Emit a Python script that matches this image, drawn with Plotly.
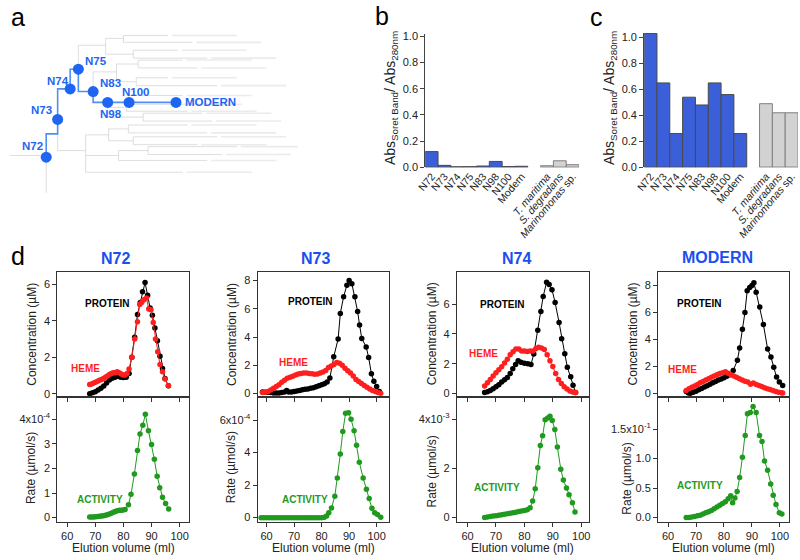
import plotly.graph_objects as go

W, H = 800, 560
FONT = "Liberation Sans, Arial, Helvetica, sans-serif"
BLUE_TXT = "#1a4ff0"
BLUE_NODE = "#1e66f2"
BLUE_LINE = "#4f8ff5"

# ---------------- Panel a : tree ----------------
tree_nodes = ["N72", "N73", "N74", "N75", "N83", "N98", "N100", "MODERN"]
tree_node_x = [36.7, 48.3, 61.0, 69.3, 84.3, 99.0, 120.7, 168.3]
tree_node_y = [156.7, 118.3, 87.3, 67.3, 90.0, 101.0, 101.0, 101.0]
tree_label_x = [22.7, 31.7, 48.3, 86.7, 101.7, 102.7, 127.7, 175.0]
tree_label_y = [145.7, 109.0, 79.0, 59.0, 81.7, 113.3, 90.0, 101.0]
tree_path_x = [36.7, 36.7, 48.3, 48.3, 61.0, 61.0, 69.3, 69.3, 84.3, 84.3, 99.0, 120.7, 168.3]
tree_path_y = [156.7, 133.0, 133.0, 87.3, 87.3, 67.3, 67.3, 90.0, 90.0, 101.0, 101.0, 101.0, 101.0]
# faint background tree: verticals (x, y0, y1), internal horizontals and leaves (x0, x1, y)
tree_v = [(36.7, 156.7, 193), (48.3, 118.3, 150), (76.7, 134, 172), (100, 128, 140),
          (120, 124, 132), (125, 136, 144), (110, 150, 160), (140, 146, 154),
          (69.3, 43, 67.3), (97, 36, 52), (115, 33, 40), (125, 48, 56),
          (84.3, 70, 90), (108, 62, 80), (130, 58, 66), (128, 76, 84),
          (99, 101, 116), (118, 103, 110), (135, 112, 120), (120.7, 94, 101)]
tree_h = [(0, 36.7, 155), (48.3, 76.7, 150), (76.7, 100, 134), (100, 120, 128),
          (100, 125, 140), (76.7, 110, 155), (110, 140, 150), (69.3, 97, 43),
          (97, 115, 36), (97, 125, 52), (84.3, 108, 70), (108, 130, 62),
          (108, 128, 80), (99, 118, 106), (99, 135, 116)]
tree_leaves = [(120, 180, 124), (120, 200, 132), (125, 210, 136), (125, 190, 144),
               (140, 230, 146), (140, 215, 154), (110, 200, 160), (76.7, 175, 172),
               (115, 160, 33), (115, 185, 40), (125, 170, 48), (125, 200, 56),
               (130, 175, 58), (130, 190, 66), (128, 160, 76), (128, 210, 84),
               (118, 165, 103), (118, 180, 110), (135, 195, 112), (135, 205, 120),
               (120.7, 175, 94)]

# ---------------- Panels b, c : bar charts ----------------
variants = ["N72", "N73", "N74", "N75", "N83", "N98", "N100", "Modern"]
species = ["T. maritima", "S. degradans", "Marinomonas sp."]
species_ticks = ["<i>T. maritima</i>", "<i>S. degradans</i>", "<i>Marinomonas</i> sp."]
spacer = " "
ratio_b_variants = [0.12, 0.015, 0.004, 0.005, 0.01, 0.045, 0.006, 0.008]
ratio_b_species = [0.012, 0.05, 0.02]
ratio_c_variants = [1.03, 0.65, 0.26, 0.54, 0.48, 0.65, 0.56, 0.26]
ratio_c_species = [0.49, 0.42, 0.42]
ratio_ticks = [0, 0.2, 0.4, 0.6, 0.8, 1.0]

# ---------------- Panel d : elution profiles ----------------
col_titles = ["N72", "N73", "N74", "MODERN"]

prot72_x = [68, 69, 70, 71, 72, 73, 74, 75, 76, 77, 78, 79, 80, 81, 82, 83, 84, 85, 86,
            86.8, 87.7, 88.6, 89.5, 90.3, 91.2, 92.1, 93, 93.9, 94.8, 96]
prot72_y = [0.0, 0.05, 0.1, 0.2, 0.3, 0.42, 0.58, 0.75, 0.85, 0.9, 0.95, 0.9, 0.88, 0.9, 1.1, 2.0, 3.1, 4.35, 5.0,
            5.6, 6.1, 5.4, 4.7, 4.3, 3.6, 2.9, 2.05, 1.38, 0.83, 0.43]
heme72_x = [68, 68.7, 69.4, 70.1, 70.8, 71.5, 72.2, 72.9, 73.6, 74.3,
            75, 75.7, 76.4, 77.1, 77.8, 78.5, 79.2, 79.9, 80.6, 81.3,
            82, 83, 84, 85, 85.8, 86.5, 87.3, 88.2, 89, 89.8,
            90.6, 91.4, 92.2, 93, 93.9, 94.8, 96]
heme72_y = [0.5, 0.53, 0.58, 0.63, 0.68, 0.73, 0.78, 0.83, 0.9, 0.97,
            1.05, 1.1, 1.15, 1.15, 1.2, 1.15, 1.08, 1.03, 1.02, 1.1,
            1.35, 2.0, 3.0, 3.95, 4.9, 5.0, 5.15, 5.25, 4.65, 4.6,
            3.9, 3.0, 2.3, 1.6, 1.2, 0.8, 0.43]
act72_x = [68, 68.7, 69.4, 70.1, 70.8, 71.5, 72.2, 72.9, 73.6, 74.3,
           75, 75.7, 76.4, 77.1, 77.8, 78.5, 79.2, 79.9, 80.6,
           81.8, 82.7, 83.9, 85, 85.9, 86.9, 87.8, 88.9,
           90, 91, 92, 92.9, 93.9, 95, 96.1]
act72_y = [0.02e-4, 0.02e-4, 0.02e-4, 0.03e-4, 0.04e-4, 0.05e-4, 0.06e-4, 0.08e-4, 0.1e-4, 0.12e-4,
           0.15e-4, 0.18e-4, 0.22e-4, 0.25e-4, 0.28e-4, 0.3e-4, 0.3e-4, 0.31e-4, 0.33e-4,
           0.52e-4, 0.95e-4, 1.77e-4, 2.73e-4, 3.4e-4, 3.75e-4, 4.2e-4, 3.53e-4,
           2.97e-4, 2.37e-4, 1.68e-4, 1.21e-4, 0.83e-4, 0.57e-4, 0.35e-4]

prot73_x = [58.5, 59.5, 60.5, 61.5, 62.5, 63.5, 64.5, 65.5, 66.5, 67.3, 68,
            69, 70, 71, 72, 73, 74, 75, 76, 77, 78, 79, 80, 81, 82, 83,
            84.4, 86, 86.8, 88, 89.2, 90, 91, 92.1, 93.1, 93.8, 94.6, 96.2, 97.1, 98.1, 99, 100, 101]
prot73_y = [0.12, 0.1, 0.1, 0.08, 0.05, 0.05, 0.05, 0.08, 0.12, 0.22, 0.12,
            0.12, 0.15, 0.18, 0.22, 0.27, 0.3, 0.33, 0.38, 0.42, 0.48, 0.55, 0.62, 0.7, 0.82, 1.1,
            2.6, 3.86, 5.67, 6.86, 7.67, 8.0, 7.78, 6.86, 5.8, 4.85, 3.9, 3.3, 2.56, 1.41, 0.88, 0.5, 0.14]
heme73_x = [58.5, 59.5, 60.5, 61.5, 62.5, 63.5, 64.5, 65.5, 66.5, 67.5,
            68.5, 69.5, 70.5, 71.5, 72.5, 73.5, 74.5, 75.5, 76.5, 77.5,
            78.5, 79.5, 80.5, 81.5, 82.5, 83.5, 84.5, 85.5, 86.5, 87.5,
            88.5, 89.5, 90.5, 91.5, 92.5, 93.5, 94.5, 95.5, 96.5, 97.5,
            98.5, 99.5, 100.5, 101.5]
heme73_y = [0.07, 0.1, 0.14, 0.25, 0.37, 0.5, 0.62, 0.8, 0.95, 1.08,
            1.15, 1.22, 1.32, 1.38, 1.42, 1.45, 1.45, 1.43, 1.4, 1.37,
            1.38, 1.45, 1.52, 1.64, 1.85, 1.95, 2.05, 2.2, 2.15, 2.0,
            1.8, 1.62, 1.45, 1.25, 1.0, 0.85, 0.72, 0.58, 0.45, 0.32,
            0.22, 0.14, 0.07, 0.03]
act73_x = [58, 59, 60, 61, 62, 63, 64, 65, 66, 67, 68, 69, 70, 71, 72, 73, 74, 75, 76, 77, 78, 79, 80, 81,
           81.8, 82.6, 83.6, 84.8, 85.7, 86.8, 87.7, 88.7, 89.8, 90.7, 91.8, 92.7, 93.7, 95.1, 96.3, 97.3,
           98.3, 99.3, 100.3, 101.5]
act73_y = [0, 0, 0, 0, 0, 0, 0, 0, 0, 0, 0, 0, 0, 0, 0, 0, 0, 0, 0, 0, 0, 0, 0, 0.02e-4,
           0.1e-4, 0.3e-4, 0.6e-4, 1.32e-4, 2.44e-4, 3.92e-4, 5.3e-4, 6.42e-4, 6.46e-4, 6.06e-4,
           5.35e-4, 4.45e-4, 3.41e-4, 2.44e-4, 1.75e-4, 1.18e-4, 0.57e-4, 0.3e-4, 0.2e-4, 0.02e-4]

prot74_x = [66, 67, 68, 69, 70, 71, 72, 73, 74, 75, 75.9, 76.9, 77.8, 78.8, 80, 81.2, 82.3, 83.3,
            84.7, 85.8, 86.6, 87.8, 88.7, 89.7, 90.8, 92.2, 93.1, 94.2, 95.1, 96.3, 97.1, 98]
prot74_y = [0.07, 0.12, 0.2, 0.32, 0.45, 0.6, 0.78, 0.92, 1.08, 1.35, 1.66, 1.95, 2.2, 2.1, 2.04, 2.0, 1.95, 2.65,
            4.25, 5.5, 6.5, 7.45, 7.3, 6.96, 6.1, 4.76, 3.68, 2.67, 1.77, 1.12, 0.55, 0.07]
heme74_x = [66, 67, 68, 69, 70, 71, 72, 73, 74, 75, 76, 77, 78, 79, 80, 81, 82, 83, 84, 85,
            86, 87, 88, 89, 90, 91, 92, 93, 94, 95, 96, 97, 98]
heme74_y = [0.5, 0.72, 0.95, 1.18, 1.4, 1.6, 1.8, 2.05, 2.3, 2.6,
            2.8, 2.98, 2.98, 2.85, 2.85, 2.82, 2.85, 2.85, 3.0, 3.1,
            3.05, 2.95, 2.6, 2.2, 1.82, 1.35, 0.94, 0.68, 0.46, 0.3,
            0.18, 0.1, 0.07]
act74_x = [66, 67, 68, 69, 70, 71, 72, 73, 74, 75, 76, 77, 78, 79, 80, 81, 82,
           82.9, 83.8, 84.7, 85.6, 86.4, 87.3, 88.2, 89, 89.8, 90.7, 91.6, 92.8, 93.7, 94.8, 95.7, 96.9, 97.8]
act74_y = [0.0, 0.02e-3, 0.04e-3, 0.06e-3, 0.08e-3, 0.1e-3, 0.12e-3, 0.14e-3, 0.16e-3, 0.18e-3,
           0.2e-3, 0.22e-3, 0.25e-3, 0.27e-3, 0.29e-3, 0.32e-3, 0.4e-3,
           0.67e-3, 1.17e-3, 2.03e-3, 2.93e-3, 3.33e-3, 3.98e-3, 4.05e-3, 4.12e-3, 3.95e-3, 3.58e-3,
           2.87e-3, 1.97e-3, 1.53e-3, 1.2e-3, 0.93e-3, 0.6e-3, 0.23e-3]

protM_x = [66.5, 67.3, 68, 69, 70, 71, 72, 73, 74, 75, 76, 77, 78, 79, 80, 81, 82,
           83.3, 84.8, 85.6, 86.6, 87.5, 88.3, 89.2, 90, 90.7, 91.5, 92.8, 94.1, 95.6, 96.8, 97.8, 98.8, 99.8, 101]
protM_y = [0.15, 0.05, 0.02, 0.1, 0.18, 0.28, 0.38, 0.48, 0.58, 0.7, 0.8, 0.9, 1.0, 1.08, 1.18, 1.28, 1.4,
           1.7, 2.46, 3.37, 4.76, 6.0, 7.6, 7.85, 8.0, 8.2, 7.5, 6.4, 5.1, 3.3, 2.7, 1.95, 1.22, 0.86, 0.6]
hemeM_x = [66.5, 67.5, 68.5, 69.5, 70.5, 71.5, 72.5, 73.5, 74.5, 75.5,
           76.5, 77.5, 78.5, 79.5, 80.5, 81.5, 82.5, 83.5, 84.5, 85.5,
           86.5, 87.5, 88.5, 89.5, 90.5, 91.5, 92.5, 93.5, 94.5, 95.5,
           96.5, 97.5, 98.5, 99.5, 100.5, 101]
hemeM_y = [0.22, 0.35, 0.46, 0.57, 0.68, 0.8, 0.9, 1.0, 1.1, 1.2,
           1.3, 1.4, 1.48, 1.55, 1.62, 1.5, 1.4, 1.3, 1.2, 1.1,
           1.0, 0.92, 0.86, 0.7, 0.78, 0.68, 0.6, 0.52, 0.43, 0.36,
           0.3, 0.22, 0.16, 0.1, 0.06, 0.04]
actM_x = [66.5, 67.5, 68.5, 69.5, 70.5, 71.5, 72.5, 73.5, 74.5, 75.5, 76.5, 77.5, 78.5, 79.5, 80.5, 81.5,
          82.4, 83.1, 83.9, 84.7, 85.6, 86.6, 87.6, 88.4, 89.4, 90.4, 91.5, 92.7, 93.6, 94.5, 95.6, 96.7,
          97.6, 98.6, 99.8, 100.7]
actM_y = [0.0, 0.0, 0.001, 0.002, 0.003, 0.004, 0.006, 0.008, 0.01, 0.012, 0.015, 0.018, 0.021, 0.024, 0.027, 0.032,
          0.037, 0.025, 0.033, 0.044, 0.068, 0.102, 0.139, 0.176, 0.178, 0.188, 0.178, 0.139, 0.129, 0.096, 0.08, 0.057,
          0.038, 0.022, 0.008, 0.006]

conc_tickvals = [[0, 2, 4, 6], [0, 2, 4, 6, 8], [0, 2, 4, 6], [0, 2, 4, 6, 8]]
rate_tickvals = [[0, 1e-4, 2e-4, 3e-4, 4e-4], [0, 2e-4, 4e-4, 6e-4], [0, 2e-3, 4e-3], [0, 0.05, 0.10, 0.15]]
rate_ticktext = [["0", "1", "2", "3", "4x10<sup>-4</sup>"], ["0", "2", "4", "6x10<sup>-4</sup>"],
                 ["0", "2", "4x10<sup>-3</sup>"], ["0.0", "0.5", "1.0", "1.5x10<sup>-1</sup>"]]
elution_ticks = [60, 70, 80, 90, 100]

# ---------------- layout geometry (pixels) ----------------
col_px = [(48, 182), (251, 384), (453, 587), (657, 790)]
col_xrange = [[56.5, 103.5], [56.7, 104.4], [56.2, 102.7], [56.4, 103.3]]
col_concrange = [[-0.16, 6.7], [-0.21, 8.63], [-0.2, 8.17], [-0.22, 9.02]]
col_raterange = [[-0.16e-4, 4.92e-4], [-0.24e-4, 7.45e-4], [-0.16e-3, 4.92e-3], [-0.0067, 0.205]]
TOP, MID, BOT = 273, 400, 527


def dx(l, r):
    return [l / W, r / W]


def dy(top, bottom):
    return [1 - bottom / H, 1 - top / H]


def note(x, y, text, size, color, angle=0, xanchor="center"):
    return dict(x=x / W, y=1 - y / H, xref="paper", yref="paper", text=text, showarrow=False,
                xanchor=xanchor, yanchor="middle", textangle=angle,
                font=dict(family=FONT, size=size, color=color))


fig = go.Figure()
layout = {}

# ----- panel a -----
gx, gy = [], []
for x, y0, y1 in tree_v:
    gx += [x, x, None]
    gy += [y0, y1, None]
for x0, x1, y in tree_h + tree_leaves:
    gx += [x0, x1, None]
    gy += [y, y, None]
sx, sy = [], []
for x0, x1, y in tree_leaves:
    sx += [x1 + 4, min(x1 + 70, 292), None]
    sy += [y, y, None]
fig.add_trace(go.Scatter(x=sx, y=sy, mode="lines", line=dict(color="#ebebeb", width=1.6),
                         xaxis="x", yaxis="y"))
fig.add_trace(go.Scatter(x=gx, y=gy, mode="lines", line=dict(color="#d6d6d6", width=0.8),
                         xaxis="x", yaxis="y"))
fig.add_trace(go.Scatter(x=tree_path_x, y=tree_path_y, mode="lines", line=dict(color=BLUE_LINE, width=1.6),
                         xaxis="x", yaxis="y"))
fig.add_trace(go.Scatter(x=tree_node_x, y=tree_node_y, mode="markers",
                         marker=dict(color=BLUE_NODE, size=11), xaxis="x", yaxis="y"))
layout["xaxis"] = dict(domain=dx(0, 300), range=[0, 300], visible=False)
layout["yaxis"] = dict(domain=dy(25, 200), range=[200, 25], visible=False)

annotations = []
for name, lx, ly in zip(tree_nodes, tree_label_x, tree_label_y):
    annotations.append(dict(x=lx, y=ly, xref="x", yref="y", text=f"<b>{name}</b>", showarrow=False,
                            xanchor="left" if name == "MODERN" else "center", yanchor="middle",
                            font=dict(family=FONT, size=11.5, color=BLUE_NODE)))

# ----- panels b, c -----
cat_order = variants + [spacer] + species
cat_text = variants + [" "] + species_ticks
shapes = []
for k, (vals_v, vals_s, xd, yd, yr) in enumerate([
        (ratio_b_variants, ratio_b_species, (421, 577), (31, 167), [0, 1.0226]),
        (ratio_c_variants, ratio_c_species, (643, 799), (30, 167), [0, 1.038])]):
    n = 2 + k
    fig.add_trace(go.Bar(x=variants, y=vals_v, width=1, marker=dict(color="#3b5fd8", line=dict(color="#4a4a4a", width=1)),
                         xaxis=f"x{n}", yaxis=f"y{n}"))
    fig.add_trace(go.Bar(x=species, y=vals_s, width=1, marker=dict(color="#d2d2d2", line=dict(color="#808080", width=1)),
                         xaxis=f"x{n}", yaxis=f"y{n}"))
    layout[f"xaxis{n}"] = dict(domain=dx(*xd), anchor=f"y{n}", type="category", categoryorder="array",
                               categoryarray=cat_order, tickvals=cat_order, ticktext=cat_text,
                               range=[-0.5, 11.5], tickangle=-50, showline=False, ticks="",
                               tickfont=dict(family=FONT, size=10.5, color="#222"), showgrid=False, zeroline=False)
    layout[f"yaxis{n}"] = dict(domain=dy(*yd), anchor=f"x{n}", range=yr, tickvals=ratio_ticks, tickformat=".1f",
                               showline=True, linecolor="#444", linewidth=1, ticks="outside", ticklen=4,
                               tickcolor="#444", tickfont=dict(family=FONT, size=11, color="#222"),
                               showgrid=False, zeroline=False)
    shapes.append(dict(type="line", xref=f"x{n}", yref=f"y{n}", x0=-0.5, x1=7.5, y0=0, y1=0,
                       line=dict(color="#555", width=1.2)))
    shapes.append(dict(type="line", xref=f"x{n}", yref=f"y{n}", x0=8.5, x1=11.5, y0=0, y1=0,
                       line=dict(color="#777", width=1.2)))

for tx in (387, 609):
    annotations.append(note(tx, 97, "Abs<sub>Soret Band</sub>/ Abs<sub>280nm</sub>", 14, "#222", angle=-90))

# ----- panel d -----
series = [
    (prot72_x, prot72_y, heme72_x, heme72_y, act72_x, act72_y),
    (prot73_x, prot73_y, heme73_x, heme73_y, act73_x, act73_y),
    (prot74_x, prot74_y, heme74_x, heme74_y, act74_x, act74_y),
    (protM_x, protM_y, hemeM_x, hemeM_y, actM_x, actM_y),
]
label_pos = [
    dict(p=(98, 305), h=(77, 371), a=(91, 505)),
    dict(p=(304, 303), h=(287, 365), a=(299, 505)),
    dict(p=(499, 306), h=(480, 356), a=(494, 492)),
    dict(p=(699, 305), h=(682, 372), a=(700, 490)),
]
title_pos = [(107, 260), (310, 260), (514, 260), (717, 259)]
ytitle_x = [(22, 22), (225, 225), (428, 428), (632, 626)]
rate_title_y = [473, 472, 476, 483]

axis_common = dict(showline=True, linecolor="#333", linewidth=1, mirror=True, showgrid=False, zeroline=False,
                   ticks="outside", ticklen=4, tickcolor="#333",
                   tickfont=dict(family=FONT, size=11, color="#222"))
MS = 5.5
for i, (px_, py_, hx, hy, ax_, ay_) in enumerate(series):
    nt, nb = 4 + 2 * i, 5 + 2 * i
    l, r = col_px[i]
    fig.add_trace(go.Scatter(x=px_, y=py_, mode="lines+markers", line=dict(color="#000", width=1),
                             marker=dict(color="#000", size=MS), xaxis=f"x{nt}", yaxis=f"y{nt}"))
    fig.add_trace(go.Scatter(x=hx, y=hy, mode="lines+markers", line=dict(color="#ff1f1f", width=1),
                             marker=dict(color="#ff1f1f", size=MS), xaxis=f"x{nt}", yaxis=f"y{nt}"))
    fig.add_trace(go.Scatter(x=ax_, y=ay_, mode="lines+markers", line=dict(color="#1f9a1f", width=1),
                             marker=dict(color="#1f9a1f", size=MS), xaxis=f"x{nb}", yaxis=f"y{nb}"))
    layout[f"xaxis{nt}"] = dict(axis_common, domain=dx(l, r), anchor=f"y{nt}", range=col_xrange[i],
                                tickvals=elution_ticks, showticklabels=False)
    layout[f"yaxis{nt}"] = dict(axis_common, domain=dy(TOP, MID), anchor=f"x{nt}", range=col_concrange[i],
                                tickvals=conc_tickvals[i])
    layout[f"xaxis{nb}"] = dict(axis_common, domain=dx(l, r), anchor=f"y{nb}", range=col_xrange[i],
                                tickvals=elution_ticks)
    layout[f"yaxis{nb}"] = dict(axis_common, domain=dy(MID, BOT), anchor=f"x{nb}", range=col_raterange[i],
                                tickvals=rate_tickvals[i], ticktext=rate_ticktext[i])
    lp = label_pos[i]
    for key, txt, colr in (("p", "PROTEIN", "#000"), ("h", "HEME", "#ff1f1f"), ("a", "ACTIVITY", "#1f9a1f")):
        x0, y0 = lp[key]
        annotations.append(note(x0, y0, f"<b>{txt}</b>", 10, colr))
    tx, ty = title_pos[i]
    annotations.append(note(tx, ty, f"<b>{col_titles[i]}</b>", 16, BLUE_TXT))
    annotations.append(note((l + r) / 2, 554, "Elution volume (ml)", 12, "#222"))
    cx, rx = ytitle_x[i]
    annotations.append(note(cx, (TOP + MID) / 2, "Concentration (µM)", 12, "#222", angle=-90))
    annotations.append(note(rx, rate_title_y[i], "Rate (µmol/s)", 12, "#222", angle=-90))

for letter, (lx, ly) in zip("abcd", [(8, 14), (377, 13), (595, 14), (8, 257)]):
    annotations.append(note(lx, ly, letter, 25, "#000"))

fig.update_layout(width=W, height=H, margin=dict(l=0, r=0, t=0, b=0), paper_bgcolor="white",
                  plot_bgcolor="white", showlegend=False, barmode="overlay", bargap=0, hovermode=False,
                  annotations=annotations, shapes=shapes, **layout)
fig.write_html("out.html", config={"displayModeBar": False, "staticPlot": True},
               post_script="document.body.style.margin='0';document.body.style.overflow='hidden';")
